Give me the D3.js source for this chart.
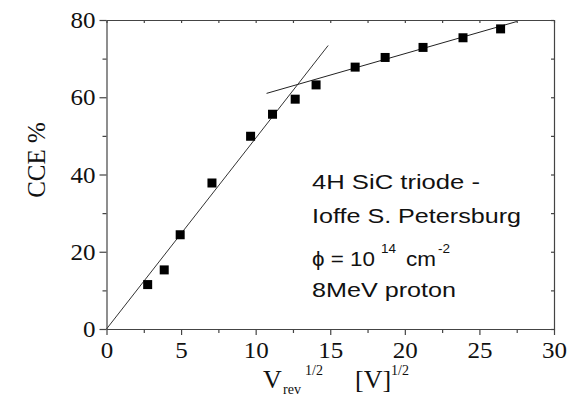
<!DOCTYPE html>
<html>
<head>
<meta charset="utf-8">
<script src="https://cdn.jsdelivr.net/npm/d3@7"></script>
<style>
  html, body { margin: 0; padding: 0; background: #fff; }
  svg { display: block; }
</style>
</head>
<body>
<div id="chart"></div>
<script>
// measured points
const vrev = [2.76, 3.87, 4.94, 7.07, 9.66, 11.13, 12.65, 14.05, 16.67, 18.68, 21.22, 23.9, 26.42];
const cce = [11.5, 15.3, 24.4, 37.8, 49.9, 55.6, 59.5, 63.2, 67.8, 70.3, 72.9, 75.4, 77.7];

// the two straight fits drawn on the plot
const fitLowX = [0, 14.86];
const fitLowY = [0, 73.4];
const fitHighX = [10.73, 27.5];
const fitHighY = [61.0, 79.6];

const xTicks = [0, 5, 10, 15, 20, 25, 30];
const xMinor = [2.5, 7.5, 12.5, 17.5, 22.5, 27.5];
const yTicks = [0, 20, 40, 60, 80];
const yMinor = [10, 30, 50, 70];

const width = 578;
const height = 397;
const margin = { top: 20, right: 24, bottom: 68, left: 106.5 };

const svg = d3.select('#chart')
  .append('svg')
  .attr('width', width)
  .attr('height', height);

const x = d3.scaleLinear().domain([0, 30]).range([margin.left, width - margin.right]);
const y = d3.scaleLinear().domain([0, 80]).range([height - margin.bottom, margin.top]);

const axisColor = '#444';
const serif = '"Liberation Serif", "Times New Roman", serif';
const sans = '"Liberation Sans", Arial, sans-serif';

function styleAxis(g) {
  g.select('.domain').attr('stroke', axisColor).attr('stroke-width', 1.2);
  g.selectAll('.tick line').attr('stroke', axisColor).attr('stroke-width', 1.2);
}

function styleLabels(g) {
  g.attr('font-family', null).attr('font-size', null);
  g.selectAll('text')
    .style('font-family', serif)
    .style('font-size', '24px')
    .attr('fill', '#111')
    .attr('textLength', d => String(d).length * 12.5)
    .attr('lengthAdjust', 'spacingAndGlyphs');
}

// bottom axis
svg.append('g')
  .attr('transform', `translate(0,${y(0)})`)
  .call(d3.axisBottom(x).tickValues(xTicks).tickSize(6).tickSizeOuter(0).tickPadding(6))
  .call(styleAxis)
  .call(styleLabels);

svg.append('g')
  .attr('transform', `translate(0,${y(0)})`)
  .call(d3.axisBottom(x).tickValues(xMinor).tickSize(4).tickFormat(''))
  .call(styleAxis)
  .select('.domain').remove();

// left axis
svg.append('g')
  .attr('transform', `translate(${x(0)},0)`)
  .call(d3.axisLeft(y).tickValues(yTicks).tickSize(7).tickSizeOuter(0).tickPadding(4))
  .call(styleAxis)
  .call(styleLabels);

svg.append('g')
  .attr('transform', `translate(${x(0)},0)`)
  .call(d3.axisLeft(y).tickValues(yMinor).tickSize(4).tickFormat(''))
  .call(styleAxis)
  .select('.domain').remove();

// top and right frame, ticks pointing inward
svg.append('g')
  .attr('transform', `translate(0,${y(80)})`)
  .call(d3.axisBottom(x).tickValues(xTicks.concat(xMinor)).tickSize(3).tickSizeOuter(0).tickFormat(''))
  .call(styleAxis);

svg.append('g')
  .attr('transform', `translate(${x(30)},0)`)
  .call(d3.axisLeft(y).tickValues(yTicks.concat(yMinor)).tickSize(3).tickSizeOuter(0).tickFormat(''))
  .call(styleAxis);

// fit lines
const line = d3.line().x(d => x(d[0])).y(d => y(d[1]));
svg.append('path')
  .datum(d3.zip(fitLowX, fitLowY))
  .attr('d', line)
  .attr('fill', 'none')
  .attr('stroke', '#333')
  .attr('stroke-width', 1);
svg.append('path')
  .datum(d3.zip(fitHighX, fitHighY))
  .attr('d', line)
  .attr('fill', 'none')
  .attr('stroke', '#222')
  .attr('stroke-width', 1);

// markers
const size = 9;
svg.append('g')
  .selectAll('rect')
  .data(d3.zip(vrev, cce))
  .enter()
  .append('rect')
  .attr('x', d => x(d[0]) - size / 2)
  .attr('y', d => y(d[1]) - size / 2)
  .attr('width', size)
  .attr('height', size)
  .attr('fill', '#000');

// axis titles
svg.append('text')
  .attr('transform', 'translate(45,160) rotate(-90)')
  .attr('text-anchor', 'middle')
  .style('font-family', serif)
  .style('font-size', '25px')
  .attr('fill', '#111')
  .text('CCE %');

const xt = svg.append('g')
  .style('font-family', serif)
  .attr('fill', '#111');
xt.append('text').attr('x', 263).attr('y', 388).style('font-size', '26px').text('V');
xt.append('text').attr('x', 283).attr('y', 394).style('font-size', '14px').text('rev');
xt.append('text').attr('x', 305).attr('y', 375).style('font-size', '14px').text('1/2');
xt.append('text').attr('x', 355).attr('y', 388).style('font-size', '26px').text('[V]');
xt.append('text').attr('x', 391).attr('y', 375).style('font-size', '14px').text('1/2');

// annotation block: the source lettering is wide, so fit each piece to its width
const notes = [
  { t: '4H SiC triode -', x: 312, y: 189, w: 168, s: 21 },
  { t: 'Ioffe S. Petersburg', x: 312, y: 223, w: 209, s: 21 },
  { t: '\u03D5 = 10', x: 312, y: 266, w: 63, s: 21 },
  { t: '14', x: 381, y: 253, w: 15, s: 13 },
  { t: 'cm', x: 406, y: 266, w: 30, s: 21 },
  { t: '-2', x: 438, y: 253, w: 12, s: 13 }
];
notes.push({ t: '8MeV proton', x: 312, y: 297, w: 144, s: 21 });

svg.append('g')
  .selectAll('text')
  .data(notes)
  .enter()
  .append('text')
  .attr('x', d => d.x)
  .attr('y', d => d.y)
  .attr('textLength', d => d.w)
  .attr('lengthAdjust', 'spacingAndGlyphs')
  .style('font-family', sans)
  .style('font-size', d => d.s + 'px')
  .attr('fill', '#111')
  .text(d => d.t);
</script>
</body>
</html>
